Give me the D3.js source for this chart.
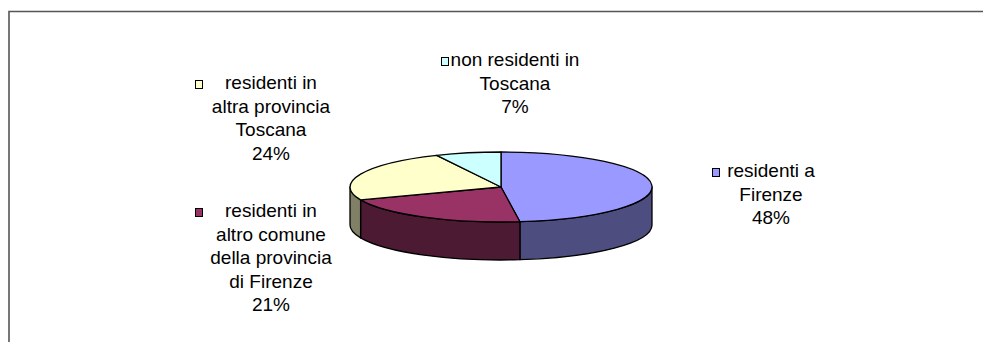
<!DOCTYPE html>
<html>
<head>
<meta charset="utf-8">
<script src="https://cdn.jsdelivr.net/npm/d3@7"></script>
<style>
  html, body { margin: 0; padding: 0; background: #fff; }
  svg { display: block; }
  text { font-family: "Liberation Sans", Arial, sans-serif; fill: #000; }
</style>
</head>
<body>
<svg id="chart" width="983" height="342"></svg>
<script>
// Provenienza (%)
const categories = [
  "residenti a Firenze",
  "residenti in altro comune della provincia di Firenze",
  "residenti in altra provincia Toscana",
  "non residenti in Toscana"
];
const values = [48, 21, 24, 7];
const labelLines = [
  ["residenti a", "Firenze"],
  ["residenti in", "altro comune", "della provincia", "di Firenze"],
  ["residenti in", "altra provincia", "Toscana"],
  ["non residenti in", "Toscana"]
];
const topColors = ["#9999FF", "#993366", "#FFFFCC", "#CCFFFF"];
const sideColors = ["#4D4D80", "#4D1A33", "#808066", "#668080"];

// label placement: centre x, first baseline, legend key x
const labelLayout = [
  { x: 771, y: 177, keyX: 712 },
  { x: 271, y: 217, keyX: 195 },
  { x: 271, y: 89,  keyX: 195 },
  { x: 515, y: 66,  keyX: 441 }
];

const svg = d3.select("#chart");
const W = 983, H = 342;

// outer frame
svg.append("path")
  .attr("d", `M9,${H} V11.5 H${W}`)
  .attr("fill", "none")
  .attr("stroke", "#555")
  .attr("stroke-width", 1.6);

// 3D pie geometry
const cx = 501, cy = 187, rx = 151, ry = 35, depth = 38;
const pt = (a, dy = 0) => [cx + rx * Math.sin(a), cy - ry * Math.cos(a) + dy];

const arcs = d3.pie().sort(null).value(d => d)(values);
const g = svg.append("g");

// visible side walls (front half: angle between PI/2 and 3PI/2)
arcs.forEach((d, i) => {
  const s = Math.max(d.startAngle, Math.PI / 2);
  const e = Math.min(d.endAngle, 3 * Math.PI / 2);
  if (e <= s) return;
  const t0 = pt(s), t1 = pt(e), b0 = pt(s, depth), b1 = pt(e, depth);
  const p = `M${t0} L${b0} A${rx},${ry} 0 0 1 ${b1} L${t1} A${rx},${ry} 0 0 0 ${t0} Z`;
  g.append("path")
    .attr("d", p)
    .attr("fill", sideColors[i])
    .attr("stroke", "#000")
    .attr("stroke-width", 1.3)
    .attr("stroke-linejoin", "round");
});

// top faces
arcs.forEach((d, i) => {
  const p0 = pt(d.startAngle), p1 = pt(d.endAngle);
  const large = d.endAngle - d.startAngle > Math.PI ? 1 : 0;
  const p = `M${cx},${cy} L${p0} A${rx},${ry} 0 ${large} 1 ${p1} Z`;
  g.append("path")
    .attr("d", p)
    .attr("fill", topColors[i])
    .attr("stroke", "#000")
    .attr("stroke-width", 1.3)
    .attr("stroke-linejoin", "round");
});

// labels with legend key, category name and percentage
const lineH = 23.5;
const fmt = d3.format(".0%");
const total = d3.sum(values);
labelLines.forEach((lines, i) => {
  const L = labelLayout[i];
  const all = lines.concat([fmt(values[i] / total)]);
  const t = svg.append("text")
    .attr("text-anchor", "middle")
    .attr("font-size", 19);
  all.forEach((ln, j) => {
    t.append("tspan")
      .attr("x", L.x)
      .attr("y", L.y + j * lineH)
      .text(ln);
  });
  svg.append("rect")
    .attr("x", L.keyX + 0.5)
    .attr("y", L.y - 8.5)
    .attr("width", 7)
    .attr("height", 8)
    .attr("fill", topColors[i])
    .attr("stroke", "#000")
    .attr("stroke-width", 1);
});
</script>
</body>
</html>
